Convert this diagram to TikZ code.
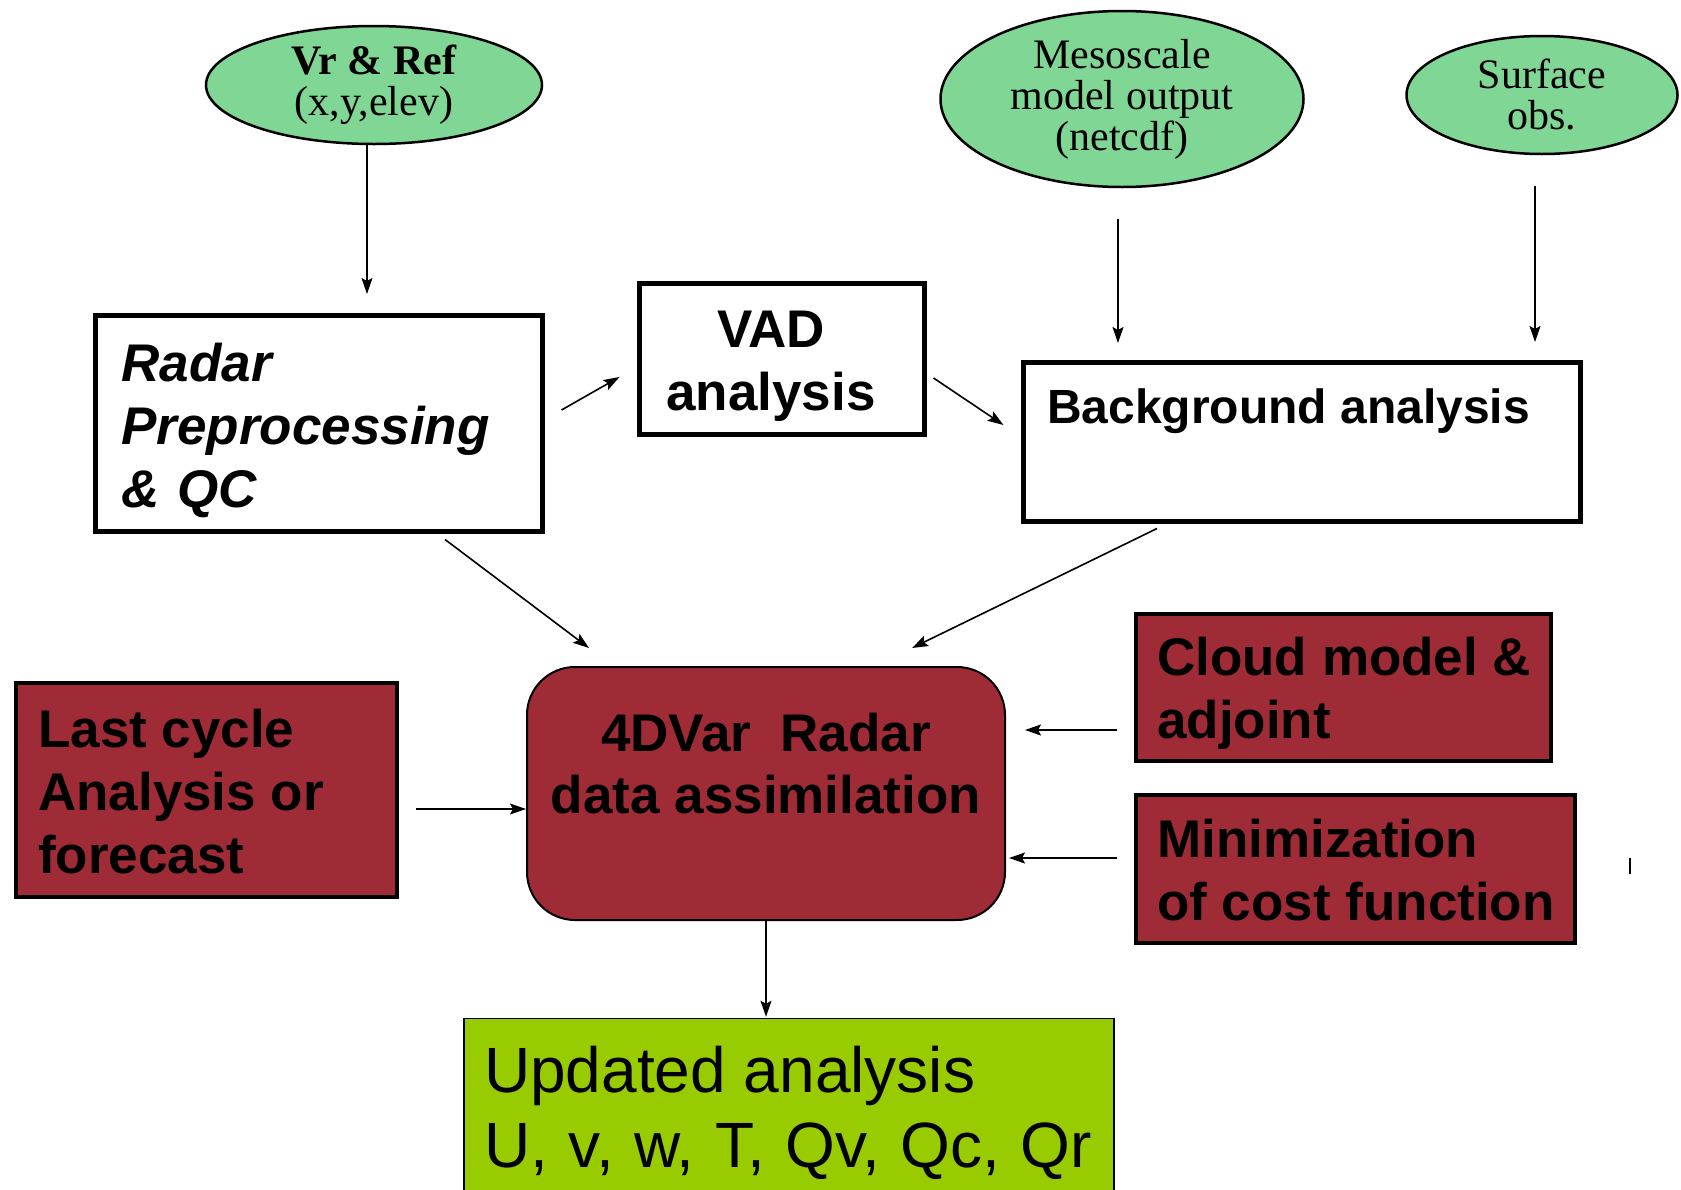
\documentclass[tikz,border=0pt]{standalone}
\usepackage{fontspec}
\setmainfont{Liberation Serif}
\setsansfont{Liberation Sans}
\usetikzlibrary{arrows.meta}
\usetikzlibrary{shapes.geometric}
\definecolor{obsgreen}{RGB}{128,214,148}
\definecolor{dared}{RGB}{158,43,53}
\definecolor{outgreen}{RGB}{153,204,0}

\begin{document}
\begin{tikzpicture}[x=1pt, y=-1pt]
\tikzstyle{source} = [ellipse, draw = black, line width=2.5pt, fill=obsgreen, inner sep=0pt, align=center, font=\fontsize{42}{41}\selectfont]
\tikzstyle{procbox} = [rectangle, draw = black, line width=5pt, fill=white]
\tikzstyle{redbox} = [rectangle, draw = black, line width=4pt, fill=dared]
\tikzstyle{boxtext} = [inner sep=0pt, align=left, font=\sffamily\bfseries\fontsize{53}{63}\selectfont]
\tikzstyle{edge} = [-{Stealth[length=16pt, width=11pt, inset=3pt]}, line width=1.6pt]
\useasboundingbox (0,0) rectangle (1681,1189);
% -----------------------------------
% Inputs
\node[source, minimum width=336pt, minimum height=118pt] (vr) at (374,85) {\textbf{Vr \& Ref}\\(x,y,elev)};
\node[source, minimum width=363pt, minimum height=176pt] (meso) at (1122,99) {Mesoscale\\model output\\(netcdf)};
\node[source, minimum width=271pt, minimum height=118pt] (surf) at (1542,95) {Surface\\obs.};

% -----------------------------------
% Preprocessing
\node[procbox, minimum width=447pt, minimum height=216pt] (radar) at (319,423.5) {};
\node[boxtext, text width=395pt, font=\sffamily\bfseries\itshape\fontsize{53}{63}\selectfont] (radartext) at (319,430) {Radar\\Preprocessing\\\& QC};
\node[procbox, minimum width=285pt, minimum height=151pt] (vad) at (782,359) {};
\node[boxtext, align=center] (vadtext) at (771,366) {VAD\\analysis};
\node[procbox, minimum width=557pt, minimum height=159pt] (bg) at (1302,442) {};
\node[boxtext, anchor=base west, font=\sffamily\bfseries\fontsize{48}{56}\selectfont] (bgtext) at (1047,423) {Background analysis};

\draw[edge, shorten >=19pt] ([xshift=-7pt]vr.south) -- ([xshift=-7pt]vr.south |- radar.north);
\draw[edge, shorten <=31pt, shorten >=17pt] ([xshift=-4pt]meso.south) -- ([xshift=-4pt]meso.south |- bg.north);
\draw[edge, shorten <=31pt, shorten >=18pt] ([xshift=-7pt]surf.south) -- ([xshift=-7pt]surf.south |- bg.north);
\draw[edge] ([shift={(16.5,-13.5)}]radar.east) -- ([shift={(-17.5,18)}]vad.west);
\draw[edge] ([shift={(6.5,19)}]vad.east) -- ([shift={(-17.5,-17)}]bg.west);

% -----------------------------------
% Assimilation
\node[draw = black, rounded corners=48pt, fill=dared, line width=2pt, minimum width=478pt, minimum height=253pt] (dar) at (766,793.5) {};
\node[boxtext, align=center, font=\sffamily\bfseries\fontsize{53}{62}\selectfont] (dartext) at (766,764) {4DVar\ \ Radar\\data assimilation};
\node[redbox, minimum width=381pt, minimum height=214pt] (last) at (206.5,790) {};
\node[boxtext, anchor=west] (lasttext) at (38,792) {Last cycle\\Analysis or\\forecast};
\node[redbox, minimum width=415pt, minimum height=147pt] (cloud) at (1343.5,687.5) {};
\node[boxtext, anchor=west] (cloudtext) at (1157,693.5) {Cloud model \&\\adjoint};
\node[redbox, minimum width=439pt, minimum height=148pt] (mini) at (1355.5,869) {};
\node[boxtext, anchor=west] (minitext) at (1157,870.5) {Minimization\\of cost function};
\draw[line width=1.5pt] (1630,858) -- (1630,874);

\draw[edge] ([shift={(126,5.5)}]radar.south) -- ([shift={(-177,-18)}]dar.north);
\draw[edge] ([shift={(-145,4.5)}]bg.south) -- ([shift={(146,-18)}]dar.north);
\draw[edge] ([shift={(17,19)}]last.east) -- ([shift={(0,15.5)}]dar.west);
\draw[edge] ([shift={(-17,42.5)}]cloud.west) -- ([shift={(19,-63.5)}]dar.east);
\draw[edge] ([shift={(-17,-11)}]mini.west) -- ([shift={(3,64.5)}]dar.east);

% -----------------------------------
% Output
\node[draw = black, fill=outgreen, line width=1.5pt, minimum width=650pt, minimum height=177pt] (upd) at (789,1107) {};
\node[boxtext, anchor=west, font=\sffamily\fontsize{64}{75}\selectfont] (updtext) at (484,1112.5) {Updated analysis\\U,\hspace{20.5pt}v,\hspace{20.5pt}w,\hspace{20.5pt}T,\hspace{20.5pt}Qv,\hspace{20.5pt}Qc,\hspace{20.5pt}Qr};
\draw[edge, shorten >=1pt] (dar.south) -- (dar.south |- upd.north);
% -----------------------------------
\end{tikzpicture}
\end{document}
